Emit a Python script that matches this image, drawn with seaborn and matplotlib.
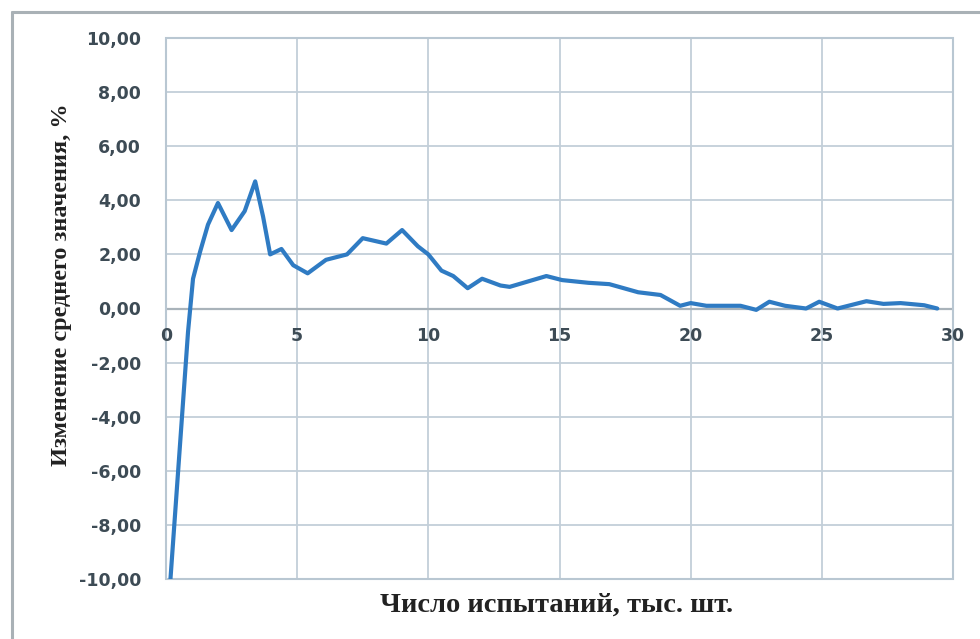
import matplotlib
matplotlib.use("Agg")
import matplotlib.pyplot as plt
import seaborn as sns
import pandas as pd
from matplotlib.patches import Rectangle
from matplotlib.lines import Line2D

x_vals = [0.17, 0.84, 1.03, 1.3, 1.6, 1.98, 2.5, 3.0, 3.4, 3.7, 3.97, 4.4, 4.85, 5.4,
          6.1, 6.9, 7.5, 8.4, 9.0, 9.6, 10.0, 10.5, 10.95, 11.5, 12.05, 12.75, 13.1,
          14.5, 15.1, 16.1, 16.9, 18.0, 18.85, 19.6, 20.0, 20.6, 21.1, 21.9, 22.5,
          23.0, 23.6, 24.4, 24.9, 25.6, 26.7, 27.35, 28.0, 28.9, 29.4]
y_vals = [-10.0, -0.86, 1.1, 2.1, 3.1, 3.9, 2.9, 3.6, 4.7, 3.4, 2.0, 2.2, 1.6, 1.3,
          1.8, 2.0, 2.6, 2.4, 2.9, 2.3, 2.0, 1.4, 1.2, 0.75, 1.1, 0.85, 0.8,
          1.2, 1.05, 0.95, 0.9, 0.6, 0.5, 0.1, 0.2, 0.1, 0.1, 0.1, -0.05,
          0.25, 0.1, 0.0, 0.25, 0.0, 0.27, 0.17, 0.2, 0.12, 0.0]

x_ticks = [0, 5, 10, 15, 20, 25, 30]
y_ticks = [-10, -8, -6, -4, -2, 0, 2, 4, 6, 8, 10]
y_tick_labels = ["-10,00", "-8,00", "-6,00", "-4,00", "-2,00", "0,00",
                 "2,00", "4,00", "6,00", "8,00", "10,00"]
x_label = "Число испытаний, тыс. шт."
y_label = "Изменение среднего значения, %"

sns.set_theme(style="white")
plt.rcParams['font.family'] = ['DejaVu Sans']

fig = plt.figure(figsize=(9.8, 6.39), dpi=100)
fig.patch.set_facecolor("white")

# outer chart frame
fig.add_artist(Line2D([12/980, 12/980], [0, 1 - 12/639], color="#a9b1b6", lw=2.2))
fig.add_artist(Line2D([12/980, 1], [1 - 12/639, 1 - 12/639], color="#a9b1b6", lw=2.2))

left, right, top, bottom = 166, 953, 38, 579
ax = fig.add_axes([left/980, 1 - bottom/639, (right-left)/980, (bottom-top)/639])

df = pd.DataFrame({"x": x_vals, "y": y_vals})
grid_c = "#c3cfd9"
ax.set_xlim(0, 30)
ax.set_ylim(-10, 10)
for xv in x_ticks:
    ax.axvline(xv, color=grid_c, lw=1.3, zorder=1)
for yv in y_ticks:
    ax.axhline(yv, color=grid_c, lw=1.3, zorder=1)
ax.axhline(0, color="#a9b3ba", lw=1.6, zorder=1)

sns.lineplot(data=df, x="x", y="y", ax=ax, color="#2f7bc3", lw=3.0,
             solid_joinstyle="round", solid_capstyle="round", zorder=3)

for s in ax.spines.values():
    s.set_visible(False)
ax.add_patch(Rectangle((0, 0), 1, 1, transform=ax.transAxes, fill=False,
                       edgecolor="#b9c7d2", lw=1.5, zorder=2, clip_on=False))

ax.set_xticks([])
ax.set_yticks(y_ticks)
ax.set_yticklabels(y_tick_labels, fontsize=12.5, fontweight="bold",
                   color="#3d4b55", fontfamily="DejaVu Sans")
ax.tick_params(axis="y", length=0, pad=18)

for xv in x_ticks:
    ax.text(xv, -1.0, str(xv), ha="center", va="center", fontsize=12.5,
            fontweight="bold", color="#3d4b55", fontfamily="DejaVu Sans")

ax.set_xlabel("")
ax.set_ylabel("")
fig.text(557/980, 1 - 605/639, x_label, ha="center", va="center",
         fontsize=20.5, fontweight="bold", fontfamily="Liberation Serif", color="#222222")
fig.text(62/980, 1 - 285/639, y_label, ha="center", va="center", rotation=90,
         fontsize=17.5, fontweight="bold", fontfamily="Liberation Serif", color="#222222")

fig.savefig("out.png", dpi=100, facecolor="white")
